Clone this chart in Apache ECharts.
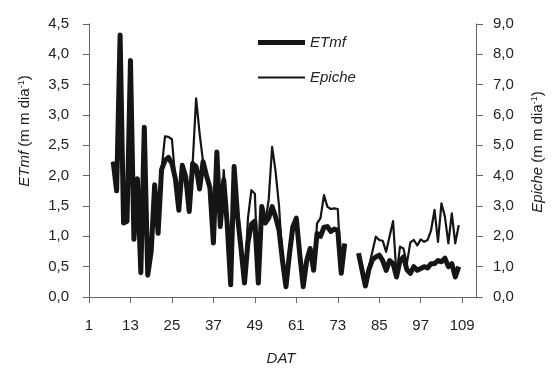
<!DOCTYPE html>
<html>
<head>
<meta charset="utf-8">
<script src="https://cdn.jsdelivr.net/npm/echarts@6/dist/echarts.min.js"></script>
<style>
  html, body { margin: 0; padding: 0; background: #fff; }
  #chart { width: 553px; height: 368px; }
</style>
</head>
<body>
<div id="chart"></div>
<script>
// dias após transplante (DAT) 8..108
const firstDay = 8
const etmf = [
  2.23, 1.75, 4.32, 1.22, 1.25, 3.9, 0.95, 1.95, 0.4, 2.8,
  0.36, 0.75, 1.85, 1.05, 2.1, 2.25, 2.3, 2.2, 1.95, 1.43,
  2.17, 1.98, 1.41, 2.2, 2.15, 1.78, 2.23, 2.0, 1.8, 0.89,
  2.39, 1.16, 1.93, 1.2, 0.2, 2.15, 1.32, 0.8, 0.23, 0.9,
  1.2, 1.25, 0.23, 1.49, 1.22, 1.3, 1.49, 1.32, 1.1, 0.6,
  0.17, 0.7, 1.16, 1.3, 0.7, 0.17, 0.6, 0.8, 0.44, 1.05,
  1.0, 1.15, 1.16, 1.08, 1.12, 1.1, 0.39, 0.88, null, null,
  null, 0.72, 0.45, 0.18, 0.45, 0.61, 0.66, 0.69, 0.6, 0.44,
  0.6, 0.55, 0.33, 0.6, 0.66, 0.45, 0.39, 0.5, 0.44, 0.47,
  0.5, 0.48, 0.55, 0.55, 0.6, 0.58, 0.64, 0.5, 0.55, 0.33, 0.5
]
const epiche = [
  4.46, 3.5, 8.6, 2.44, 2.5, 7.8, 1.9, 3.9, 0.8, 5.6,
  0.72, 1.5, 3.7, 2.1, 4.2, 5.3, 5.28, 5.2, 3.86, 2.86,
  4.34, 3.96, 2.82, 4.4, 6.55, 5.4, 4.46, 4.0, 3.6, 1.78,
  4.78, 2.32, 4.18, 2.4, 0.4, 4.35, 3.0, 1.6, 0.46, 2.6,
  3.52, 3.4, 0.46, 2.98, 2.44, 3.2, 4.95, 4.13, 3.0, 1.2,
  0.34, 1.4, 2.32, 2.6, 1.4, 0.34, 1.2, 1.6, 0.88, 2.43,
  2.6, 3.36, 2.97, 2.9, 2.92, 2.9, 0.8, 1.76, null, null,
  null, 1.44, 0.9, 0.36, 1.0, 1.49, 1.99, 1.88, 1.85, 1.49,
  2.0, 2.5, 0.7, 1.66, 1.6, 1.1, 1.8, 1.88, 1.7, 1.9,
  1.82, 1.88, 2.2, 2.87, 1.82, 3.09, 2.65, 1.77, 2.76, 1.77, 2.37
]
const leftTicks = [0, 4.5, 0.5]
const rightTicks = [0, 9, 1]
const datTicks = [1, 113, 12]

const font = 'Liberation Sans'
const ink = '#151515'
const axisGray = '#666'

const toPairs = (vals) => vals.map((v, i) => [firstDay + i, v])
const comma = (d) => (v) => v.toFixed(d).replace('.', ',')

// one legend per series so each gets its own line thickness
const legendFor = (name, top, h) => ({
  orient: 'vertical',
  left: 253,
  top: top,
  icon: 'rect',
  itemWidth: 47,
  itemHeight: h,
  itemGap: 0,
  textStyle: { fontStyle: 'italic', fontSize: 15, color: '#222', fontFamily: font },
  data: [name]
})

const chart = echarts.init(document.getElementById('chart'))
chart.setOption({
  animation: false,
  backgroundColor: '#fff',
  textStyle: { fontFamily: font },
  grid: { left: 89, right: 77, top: 24, bottom: 71 },
  legend: [
    legendFor('ETmf', 30, 5),
    legendFor('Epiche', 65, 2)
  ],
  xAxis: {
    type: 'value',
    min: datTicks[0],
    max: datTicks[1],
    interval: datTicks[2],
    splitLine: { show: false },
    axisLine: { lineStyle: { color: axisGray } },
    axisTick: { lineStyle: { color: axisGray }, length: 6 },
    axisLabel: { fontSize: 15, color: '#222', margin: 21, showMaxLabel: false }
  },
  yAxis: [
    {
      type: 'value',
      min: leftTicks[0],
      max: leftTicks[1],
      interval: leftTicks[2],
      splitLine: { show: false },
      axisLine: { show: true, lineStyle: { color: axisGray } },
      axisTick: { show: true, lineStyle: { color: axisGray }, length: 6 },
      axisLabel: { fontSize: 15, color: '#222', margin: 20, formatter: comma(1) }
    },
    {
      type: 'value',
      min: rightTicks[0],
      max: rightTicks[1],
      interval: rightTicks[2],
      splitLine: { show: false },
      axisLine: { show: true, lineStyle: { color: axisGray } },
      axisTick: { show: true, lineStyle: { color: axisGray }, length: 7 },
      axisLabel: { fontSize: 15, color: '#222', margin: 17, formatter: comma(1) }
    }
  ],
  graphic: [
    {
      type: 'text', x: 25, y: 131, rotation: Math.PI / 2,
      style: {
        text: '{i|ETmf} (m m dia{s|-1})', fontSize: 15, fill: '#222', fontFamily: font,
        align: 'center', verticalAlign: 'middle',
        rich: { i: { fontStyle: 'italic', fontSize: 15 }, s: { fontSize: 9, verticalAlign: 'top' } }
      }
    },
    {
      type: 'text', x: 538, y: 152, rotation: Math.PI / 2,
      style: {
        text: '{i|Epiche} (m m dia{s|-1})', fontSize: 15, fill: '#222', fontFamily: font,
        align: 'center', verticalAlign: 'middle',
        rich: { i: { fontStyle: 'italic', fontSize: 15 }, s: { fontSize: 9, verticalAlign: 'top' } }
      }
    },
    {
      type: 'text', x: 281, y: 359,
      style: {
        text: 'DAT', fontSize: 15, fontStyle: 'italic', fill: '#222', fontFamily: font,
        align: 'center', verticalAlign: 'middle'
      }
    }
  ],
  series: [
    {
      name: 'ETmf',
      type: 'line',
      yAxisIndex: 0,
      symbol: 'none',
      connectNulls: false,
      lineStyle: { color: ink, width: 5, join: 'round' },
      itemStyle: { color: ink },
      data: toPairs(etmf),
      z: 3
    },
    {
      name: 'Epiche',
      type: 'line',
      yAxisIndex: 1,
      symbol: 'none',
      connectNulls: false,
      lineStyle: { color: ink, width: 2.2, join: 'round' },
      itemStyle: { color: ink },
      data: toPairs(epiche),
      z: 2
    }
  ]
})
</script>
</body>
</html>
